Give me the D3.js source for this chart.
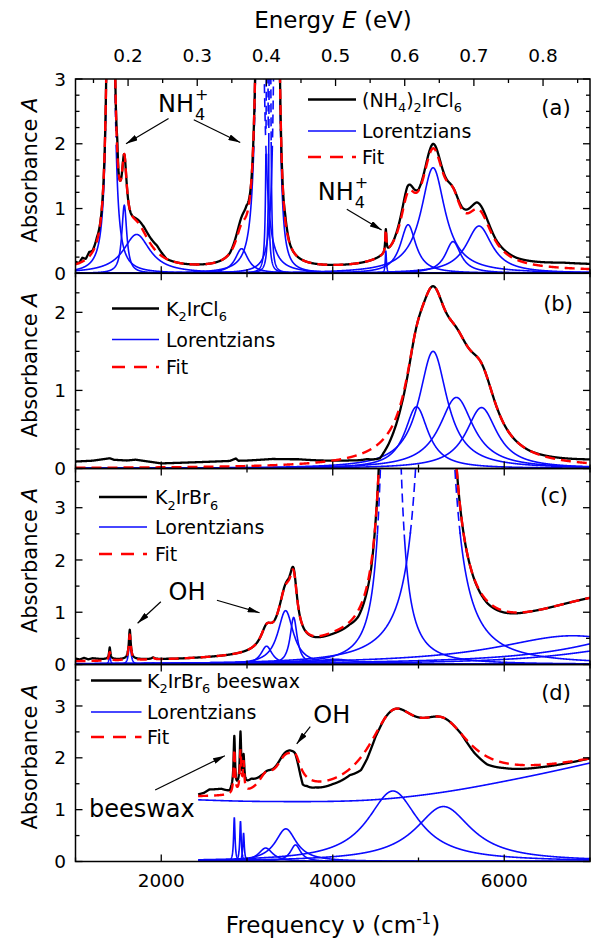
<!DOCTYPE html>
<html>
<head>
<meta charset="utf-8">
<script src="https://cdn.jsdelivr.net/npm/d3@7"></script>
<style>
  body { margin: 0; background: #fff; }
  svg text { font-family: "DejaVu Sans", sans-serif; fill: #000; }
</style>
</head>
<body>
<svg id="chart" width="606" height="942"></svg>
<script>
// ---- axes ----
const nuRange = [1000, 7000];
const nuMajor = [2000, 4000, 6000];
const nuMinor = [1000, 3000, 5000, 7000];
const eMajor = [0.2, 0.3, 0.4, 0.5, 0.6, 0.7, 0.8];
const eMinor = [0.15, 0.25, 0.35, 0.45, 0.55, 0.65, 0.75, 0.85];
const cmPerEV = 8065.54;

// ---- (a) (NH4)2IrCl6 : Lorentzian centre (cm-1), height, half width ----
const aCenter = [1410, 1569, 1713, 2937, 3150, 3235, 3268, 3345, 4619, 4879, 5170, 5403, 5706];
const aHeight = [15, 1.05, 0.6, 0.38, 8, 6, 6, 8, 0.35, 0.75, 1.63, 0.49, 0.73];
const aWidth  = [25, 35, 190, 90, 40, 10, 10, 28, 8, 110, 170, 110, 185];
const aOffset = 0.03;
// measured minus fit
const aDevNu = [1000, 1040, 1080, 1120, 1160, 1200, 1250, 1300, 1470, 1487, 1500, 1650, 1800, 1950, 2063, 2150, 2800, 2995, 3050, 3420, 3445, 3500, 4700, 4870, 5000, 5170, 5400, 5680, 5900, 6142, 6680, 7000];
const aDevA  = [0.04, 0.0, 0.06, 0.01, 0.07, 0.02, 0.06, 0.0, 0.0, 0.2, 0.0, 0.0, 0.08, 0.1, 0.0, 0.0, 0.0, 0.15, 0.0, 0.0, 0.08, 0.0, 0.0, 0.1, 0.02, 0.07, 0.0, 0.1, 0.03, 0.03, 0.08, 0.08];

// ---- (b) K2IrCl6 ----
const bCenter = [4977, 5170, 5442, 5735];
const bHeight = [0.79, 1.5, 0.91, 0.78];
const bWidth  = [165, 200, 240, 220];
const bOffset = 0;
const bDevNu = [1000, 1200, 1400, 1450, 1600, 1700, 2000, 2400, 2800, 2870, 2900, 3000, 3300, 3600, 4000, 4200, 4400, 4550, 4650, 4800, 4950, 6300, 7000];
const bDevA  = [0.08, 0.09, 0.12, 0.1, 0.09, 0.1, 0.05, 0.06, 0.07, 0.1, 0.07, 0.07, 0.08, 0.06, 0.0, -0.04, -0.1, -0.2, -0.15, -0.05, 0, 0, 0.05];

// ---- (c) K2IrBr6 ----
const cCenter = [1399, 1633, 1905, 3228, 3450, 3544, 4025, 4677, 5195, 6800, 7800, 7600];
const cHeight = [0.16, 0.48, 0.03, 0.35, 1.03, 0.9, 0.1, 15, 20, 0.55, 0.65, 0.35];
const cWidth  = [12, 15, 20, 80, 110, 50, 300, 70, 110, 1100, 1000, 1000];
const cOffset = 0;
const cDevNu = [1000, 1050, 1100, 1150, 1200, 1300, 1390, 1399, 1410, 1500, 1620, 1633, 1645, 1800, 2200, 3000, 3400, 3520, 3600, 4200, 4300, 4450, 4500, 5600, 5800, 6000, 6300, 7000];
const cDevA  = [0.05, 0.03, 0.06, 0.03, 0.05, 0.03, 0.03, 0.09, 0.03, 0.02, 0.02, 0.1, 0.02, 0.01, 0, 0, 0, 0.06, 0, -0.05, -0.12, -0.1, 0, 0, -0.04, -0.03, 0, 0];

// ---- (d) K2IrBr6 in beeswax ----
const dStart = 2430;
const dCenter = [2852, 2924, 2960, 3218, 3453, 3566, 4702, 5291];
const dHeight = [0.85, 0.78, 0.55, 0.26, 0.63, 0.32, 1.36, 1.06];
const dWidth  = [10, 10, 10, 100, 150, 72, 360, 400];
// broad background, evenly spaced from 2430 to 7000
const dBase = [1.19, 1.16, 1.155, 1.155, 1.18, 1.26, 1.38, 1.54, 1.71, 1.90];
const dDevNu = [2430, 2500, 2560, 2700, 2800, 2840, 2852, 2870, 2910, 2924, 2940, 2990, 3050, 3120, 3200, 3500, 3560, 3600, 3650, 3700, 3800, 4000, 4200, 4330, 4400, 4500, 4600, 5500, 5650, 5800, 6000, 6400, 7000];
const dDevA  = [0.03, 0.06, 0.12, 0.12, 0.05, 0.15, 0.25, 0.1, 0.15, 0.35, 0.1, 0.15, 0.18, 0.1, 0, 0.05, 0, -0.1, -0.25, -0.17, -0.12, -0.1, -0.12, -0.25, -0.2, -0.05, 0, 0, -0.1, -0.15, -0.1, -0.05, 0];

// ---- layout ----
const plotLeft = 75.5, plotRight = 590;
const blueDashPx = 131;   // Lorentzians are drawn broken above this height
const BLUE = '#0a0aff', RED = '#ff0000';

const svg = d3.select('#chart');
const x = d3.scaleLinear().domain(nuRange).range([plotLeft, plotRight]);
const xE = d3.scaleLinear().domain(nuRange.map(v => v / cmPerEV)).range([plotLeft, plotRight]);

function lorentz(nu, c, h, w) {
    return h * w * w / ((nu - c) * (nu - c) + w * w);
}

const baseD = d3.interpolateBasis(dBase);

const panels = [
    {tag: '(a)', top: 79, bottom: 273.3, yMax: 3, yMajor: [0, 1, 2, 3], yMinor: 0.25, start: 1000,
     centers: aCenter, heights: aHeight, widths: aWidth, offset: aOffset, devNu: aDevNu, devA: aDevA,
     legend: {x1: 308, x2: 356, tx: 362, rows: [99.5, 131, 157]},
     label: [['(NH', ''], ['4', 'sub'], [')', ''], ['2', 'sub'], ['IrCl', ''], ['6', 'sub']],
     tagPos: [556, 107]},
    {tag: '(b)', top: 273.3, bottom: 468.5, yMax: 2.5, yMajor: [0, 1, 2], yMinor: 0.25, start: 1000,
     centers: bCenter, heights: bHeight, widths: bWidth, offset: bOffset, devNu: bDevNu, devA: bDevA,
     legend: {x1: 112, x2: 159, tx: 166, rows: [308.5, 339.5, 367]},
     label: [['K', ''], ['2', 'sub'], ['IrCl', ''], ['6', 'sub']],
     tagPos: [558, 303.5]},
    {tag: '(c)', top: 468.5, bottom: 664.5, yMax: 3.75, yMajor: [0, 1, 2, 3], yMinor: 0.5, start: 1000,
     centers: cCenter, heights: cHeight, widths: cWidth, offset: cOffset, devNu: cDevNu, devA: cDevA,
     legend: {x1: 99, x2: 147, tx: 155, rows: [497, 527, 554]},
     label: [['K', ''], ['2', 'sub'], ['IrBr', ''], ['6', 'sub']],
     tagPos: [554, 495]},
    {tag: '(d)', top: 664.5, bottom: 861.5, yMax: 3.8, yMajor: [0, 1, 2, 3], yMinor: 0.5, start: dStart,
     centers: dCenter, heights: dHeight, widths: dWidth, offset: 0, devNu: dDevNu, devA: dDevA,
     base: nu => baseD((nu - dStart) / (nuRange[1] - dStart)),
     legend: {x1: 91, x2: 141.5, tx: 147, rows: [680.5, 712, 737]},
     label: [['K', ''], ['2', 'sub'], ['IrBr', ''], ['6', 'sub'], [' beeswax', '']],
     tagPos: [556, 692]}
];

function grid(start, end, centers) {
    const g = d3.range(start, end + 0.01, 2);
    centers.forEach(c => { if (c > start && c < end) g.push(c); });
    return g.sort((a, b) => a - b);
}

function richText(sel, parts, size) {
    parts.forEach(([t, kind], i) => {
        const prev = i > 0 ? parts[i - 1][1] : '';
        let dy = 0;
        if (kind === 'sub' && prev !== 'sub') dy = size * 0.3;
        if (kind !== 'sub' && prev === 'sub') dy = -size * 0.3;
        sel.append('tspan')
            .attr('dy', dy)
            .style('font-size', kind === 'sub' ? (size * 0.68) + 'px' : size + 'px')
            .text(t);
    });
}

function drawPanel(p, idx) {
    const y = d3.scaleLinear().domain([0, p.yMax]).range([p.bottom, p.top]);
    const g = svg.append('g');
    const clipId = 'clip' + idx;
    svg.append('clipPath').attr('id', clipId).append('rect')
        .attr('x', plotLeft).attr('y', p.top)
        .attr('width', plotRight - plotLeft).attr('height', p.bottom - p.top);
    const cg = g.append('g').attr('clip-path', 'url(#' + clipId + ')');

    const nus = grid(p.start, nuRange[1], p.centers);
    const thr = blueDashPx / (p.bottom - p.top) * p.yMax;
    const line = d3.line().x(d => x(d[0])).y(d => y(Math.min(d[1], p.yMax * 3)));

    // broad background (panel d)
    if (p.base) {
        cg.append('path')
            .attr('d', line(nus.map(n => [n, p.base(n)])))
            .attr('fill', 'none').attr('stroke', BLUE).attr('stroke-width', 1.6);
    }

    // single Lorentzians
    p.centers.forEach((c, i) => {
        const pts = nus.map(n => [n, lorentz(n, c, p.heights[i], p.widths[i])]);
        cg.append('path')
            .attr('d', line.defined(d => d[1] <= thr * 1.01)(pts))
            .attr('fill', 'none').attr('stroke', BLUE).attr('stroke-width', 1.6);
        cg.append('path')
            .attr('d', line.defined(d => d[1] >= thr * 0.99)(pts))
            .attr('fill', 'none').attr('stroke', BLUE).attr('stroke-width', 1.6)
            .attr('stroke-dasharray', '9,5');
        line.defined(() => true);
    });

    // fit and measured spectrum
    const dev = d3.scaleLinear().domain(p.devNu).range(p.devA).clamp(true);
    const fit = nus.map(n => {
        let s = p.offset + (p.base ? p.base(n) : 0);
        p.centers.forEach((c, i) => { s += lorentz(n, c, p.heights[i], p.widths[i]); });
        return [n, s];
    });
    const meas = fit.map(d => [d[0], d[1] + dev(d[0])]);

    cg.append('path').attr('d', line(meas))
        .attr('fill', 'none').attr('stroke', '#000').attr('stroke-width', 2.3)
        .attr('stroke-linejoin', 'round');
    cg.append('path').attr('d', line(fit))
        .attr('fill', 'none').attr('stroke', RED).attr('stroke-width', 2.4)
        .attr('stroke-dasharray', '10,6');

    // frame
    g.append('rect')
        .attr('x', plotLeft).attr('y', p.top)
        .attr('width', plotRight - plotLeft).attr('height', p.bottom - p.top)
        .attr('fill', 'none').attr('stroke', '#000').attr('stroke-width', 1.5);

    // y ticks (both sides, inward)
    const minors = d3.range(0, p.yMax + 1e-6, p.yMinor).filter(v => !p.yMajor.includes(v));
    const tickG = g.append('g').attr('stroke', '#000').attr('stroke-width', 1.3);
    [[plotLeft, 1], [plotRight, -1]].forEach(([xe, dir]) => {
        p.yMajor.forEach(v => tickG.append('line')
            .attr('x1', xe).attr('x2', xe + dir * 7).attr('y1', y(v)).attr('y2', y(v)));
        minors.forEach(v => tickG.append('line')
            .attr('x1', xe).attr('x2', xe + dir * 4).attr('y1', y(v)).attr('y2', y(v)));
    });
    p.yMajor.forEach(v => g.append('text')
        .attr('x', 66).attr('y', y(v)).attr('dy', '0.36em')
        .attr('text-anchor', 'end').style('font-size', '18.5px').text(v));

    // frequency ticks on bottom edge, and on top edge except panel (a)
    const edges = [[p.bottom, -1]];
    if (idx > 0) edges.push([p.top, 1]);
    edges.forEach(([ye, dir]) => {
        nuMajor.forEach(v => tickG.append('line')
            .attr('x1', x(v)).attr('x2', x(v)).attr('y1', ye).attr('y2', ye + dir * 7));
        nuMinor.forEach(v => tickG.append('line')
            .attr('x1', x(v)).attr('x2', x(v)).attr('y1', ye).attr('y2', ye + dir * 4));
    });
    if (idx === 0) {
        eMajor.forEach(v => tickG.append('line')
            .attr('x1', xE(v)).attr('x2', xE(v)).attr('y1', p.top).attr('y2', p.top + 7));
        eMinor.forEach(v => tickG.append('line')
            .attr('x1', xE(v)).attr('x2', xE(v)).attr('y1', p.top).attr('y2', p.top + 4));
    }

    // y title
    const yt = g.append('text')
        .attr('transform', `translate(37,${(p.top + p.bottom) / 2 - 6}) rotate(-90)`)
        .attr('text-anchor', 'middle').style('font-size', '21px');
    yt.append('tspan').text('Absorbance ');
    yt.append('tspan').style('font-style', 'italic').text('A');

    // legend
    const L = p.legend;
    const styles = [
        {stroke: '#000', w: 2.3, dash: null},
        {stroke: BLUE, w: 1.6, dash: null},
        {stroke: RED, w: 2.4, dash: '13,9'}
    ];
    styles.forEach((s, i) => {
        g.append('line').attr('x1', L.x1).attr('x2', L.x2)
            .attr('y1', L.rows[i]).attr('y2', L.rows[i])
            .attr('stroke', s.stroke).attr('stroke-width', s.w)
            .attr('stroke-dasharray', s.dash);
    });
    const t0 = g.append('text').attr('x', L.tx).attr('y', L.rows[0] + 7);
    richText(t0, p.label, 19);
    g.append('text').attr('x', L.tx).attr('y', L.rows[1] + 7).style('font-size', '19px').text('Lorentzians');
    g.append('text').attr('x', L.tx).attr('y', L.rows[2] + 7).style('font-size', '19px').text('Fit');

    g.append('text').attr('x', p.tagPos[0]).attr('y', p.tagPos[1]).attr('dy', '0.36em')
        .attr('text-anchor', 'middle').style('font-size', '21px').text(p.tag);

    p.y = y;
    p.g = g;
}

panels.forEach(drawPanel);

// ---- axis labels ----
nuMajor.forEach(v => svg.append('text')
    .attr('x', x(v)).attr('y', 880).attr('dy', '0.36em')
    .attr('text-anchor', 'middle').style('font-size', '18.5px').text(v));
eMajor.forEach(v => svg.append('text')
    .attr('x', xE(v)).attr('y', 55).attr('dy', '0.36em')
    .attr('text-anchor', 'middle').style('font-size', '18.5px').text(v.toFixed(1)));

const xt = svg.append('text').attr('x', 333).attr('y', 925).attr('dy', '0.36em')
    .attr('text-anchor', 'middle').style('font-size', '23px');
xt.append('tspan').text('Frequency \u03bd (cm');
xt.append('tspan').attr('dy', -9).style('font-size', '15px').text('-1');
xt.append('tspan').attr('dy', 9).text(')');

const et = svg.append('text').attr('x', 333).attr('y', 20).attr('dy', '0.36em')
    .attr('text-anchor', 'middle').style('font-size', '23px');
et.append('tspan').text('Energy ');
et.append('tspan').style('font-style', 'italic').text('E');
et.append('tspan').text(' (eV)');

// ---- annotations (data coordinates) ----
svg.append('defs').append('marker')
    .attr('id', 'arrow').attr('viewBox', '0 0 12 6').attr('refX', 12).attr('refY', 3)
    .attr('markerWidth', 12).attr('markerHeight', 6).attr('markerUnits', 'userSpaceOnUse')
    .attr('orient', 'auto')
    .append('path').attr('d', 'M0,0 L12,3 L0,6 Z').attr('fill', '#000');

const arrowsA = [[[2085, 2.39], [1589, 2.0]], [[2379, 2.37], [2921, 2.02]], [[4164, 0.99], [4570, 0.67]]];
const arrowsC = [[[1995, 1.2], [1724, 0.79]], [[2649, 1.23], [3147, 0.99]]];
const arrowsD = [[[3738, 2.6], [3580, 2.27]], [[1929, 1.38], [2742, 2.04]]];

function arrows(p, list) {
    list.forEach(([s, e]) => svg.append('line')
        .attr('x1', x(s[0])).attr('y1', p.y(s[1]))
        .attr('x2', x(e[0])).attr('y2', p.y(e[1]))
        .attr('stroke', '#000').attr('stroke-width', 1.2)
        .attr('marker-end', 'url(#arrow)'));
}
arrows(panels[0], arrowsA);
arrows(panels[2], arrowsC);
arrows(panels[3], arrowsD);

function nh4(p, nu, a) {
    const t = svg.append('text').attr('x', x(nu)).attr('y', p.y(a)).attr('dy', '0.36em')
        .style('font-size', '24px').text('NH');
    const w = t.node().getComputedTextLength();
    svg.append('text').attr('x', x(nu) + w + 1).attr('y', p.y(a) - 9).attr('dy', '0.36em')
        .style('font-size', '16px').text('+');
    svg.append('text').attr('x', x(nu) + w + 1).attr('y', p.y(a) + 11).attr('dy', '0.36em')
        .style('font-size', '16px').text('4');
}
nh4(panels[0], 1962, 2.63);
nh4(panels[0], 3826, 1.26);

function note(p, nu, a, txt) {
    svg.append('text').attr('x', x(nu)).attr('y', p.y(a)).attr('dy', '0.36em')
        .style('font-size', '24px').text(txt);
}
note(panels[2], 2085, 1.39, 'OH');
note(panels[3], 3774, 2.83, 'OH');
note(panels[3], 1157, 1.03, 'beeswax');
</script>
</body>
</html>
